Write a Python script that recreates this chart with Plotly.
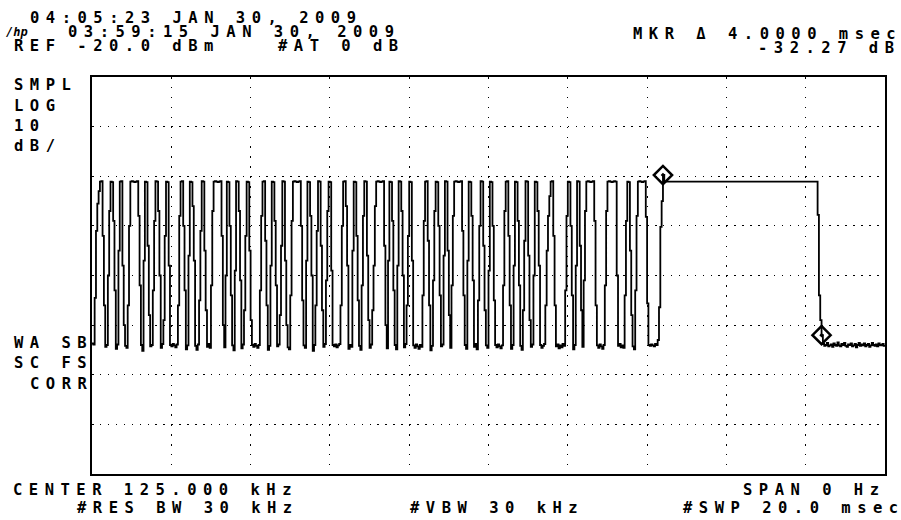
import numpy as np
import plotly.graph_objects as go

# ---------------- instrument settings ----------------
N_POINTS = 601          # trace points across the sweep
SWEEP_MS = 20.0         # sweep time, ms (x axis: 0..20 ms, 2 ms/div)
REF_DBM = -20.0         # reference level (top of graticule)
DB_PER_DIV = 10.0
N_YDIV = 8
N_XDIV = 10

# ---------------- trace values, dBm, one per sample 0..432 ----------------
pulse_dbm = [
    -73.7, -73.9, -64.5, -51.0, -45.5, -43.0, -41.1, -41.0,
    -52.0, -66.0, -74.4, -74.0, -60.0, -47.0, -41.1, -41.2,
    -49.0, -63.0, -74.8, -73.9, -55.0, -41.1, -41.0,
    -58.0, -70.0, -74.2, -74.6, -66.0, -50.0, -41.1, -41.0, -41.1, -41.2, -41.1, -41.0,
    -48.0, -62.0, -74.0, -75.2, -57.0, -41.1, -41.2,
    -54.0, -68.0, -74.3, -74.0, -63.0, -49.0, -41.0, -41.1,
    -47.0, -60.0, -74.6, -73.8, -69.0, -52.0, -41.1, -41.2,
    -58.0, -74.0, -74.3, -73.8, -74.1, -74.5, -73.9, -66.0, -48.0, -41.1, -41.0,
    -50.0, -63.0, -74.9, -74.1, -56.0, -41.1, -41.2,
    -46.0, -57.0, -74.2, -75.0, -73.9, -65.0, -51.0, -41.0, -41.1,
    -55.0, -67.0, -74.4, -73.8, -74.6, -62.0, -47.0, -41.1, -41.0, -41.1, -41.2, -41.1, -41.0,
    -52.0, -70.0, -74.5, -60.0, -41.1, -41.2,
    -50.0, -64.0, -74.1, -75.1, -59.0, -41.0, -41.1,
    -47.0, -61.0, -74.7, -73.9, -67.0, -52.0, -41.1, -41.2,
    -55.0, -69.0, -74.0, -74.4, -73.8, -74.2, -74.6, -74.0, -63.0, -48.0, -41.1, -41.0,
    -53.0, -66.0, -75.0, -74.2, -58.0, -41.1, -41.2,
    -49.0, -62.0, -74.3, -73.9, -68.0, -54.0, -41.0, -41.1,
    -57.0, -70.0, -74.5, -74.9, -64.0, -49.0, -41.1, -41.0, -41.1, -41.2, -41.1, -41.0,
    -50.0, -65.0, -74.1, -74.6, -57.0, -41.1, -41.2,
    -48.0, -60.0, -75.2, -74.0, -66.0, -51.0, -41.0, -41.1,
    -54.0, -67.0, -74.4, -73.8, -61.0, -47.0, -41.1, -41.2,
    -59.0, -74.0, -74.3, -73.9, -74.5, -74.1, -73.8, -66.0, -50.0, -41.1, -41.0,
    -46.0, -58.0, -74.8, -74.0, -74.4, -55.0, -41.1, -41.2,
    -52.0, -65.0, -74.2, -75.0, -62.0, -48.0, -41.0, -41.1,
    -56.0, -69.0, -74.6, -73.9, -67.0, -58.0, -46.0, -41.1, -41.0, -41.1, -41.2, -41.1, -41.0,
    -54.0, -70.0, -74.7, -57.0, -41.1, -41.2,
    -49.0, -63.0, -74.0, -74.9, -58.0, -41.0, -41.1,
    -47.0, -60.0, -74.5, -73.8, -66.0, -52.0, -41.1, -41.2,
    -57.0, -74.1, -74.6, -73.9, -74.3, -74.8, -74.0, -74.4, -64.0, -49.0, -41.1, -41.0,
    -53.0, -66.0, -75.1, -74.2, -61.0, -47.0, -41.1, -41.2,
    -50.0, -64.0, -74.3, -73.9, -56.0, -41.0, -41.1,
    -55.0, -68.0, -74.6, -62.0, -48.0, -41.1, -41.0, -41.1, -41.2, -41.1, -41.0,
    -51.0, -64.0, -74.0, -74.8, -57.0, -41.1, -41.2,
    -48.0, -61.0, -74.4, -73.8, -74.9, -65.0, -50.0, -41.0, -41.1,
    -54.0, -67.0, -74.1, -74.6, -59.0, -41.1, -41.2,
    -50.0, -65.0, -74.0, -74.5, -73.9, -74.3, -74.7, -74.1, -62.0, -47.0, -41.1, -41.0,
    -52.0, -66.0, -74.8, -74.0, -58.0, -41.1, -41.2,
    -49.0, -62.0, -74.2, -75.0, -67.0, -53.0, -41.0, -41.1,
    -56.0, -69.0, -74.4, -73.9, -60.0, -41.1, -41.2,
    -47.0, -58.0, -74.0, -74.6, -74.2, -73.8, -66.0, -55.0, -48.0, -44.0, -41.1, -41.0,
    -52.0, -66.0, -74.3, -73.9, -74.7, -74.1, -74.5, -73.8, -74.2, -63.0, -48.0, -41.1, -41.2,
    -50.0, -64.0, -74.9, -74.0, -58.0, -41.0, -41.1,
    -54.0, -67.0, -74.4, -61.0, -47.0, -41.1, -41.0, -41.1, -41.2, -41.1, -41.0,
    -49.0, -66.0, -74.1, -74.6, -73.9, -74.3, -74.8, -74.0, -62.0, -47.0,
    -41.1, -41.0, -41.1, -41.2, -41.1, -41.0, -41.1,
    -60.0, -74.2, -73.8, -74.5, -74.1, -74.6, -64.0, -49.0, -41.1, -41.2,
    -55.0, -68.0, -74.3, -74.9, -63.0, -48.0, -41.1, -41.0, -41.1, -41.2, -41.1, -41.0,
    -48.2, -65.6, -74.0, -74.2, -73.9, -74.1, -74.3, -73.8, -74.0, -73.0, -66.4, -50.2, -45.0,
    -39.75,
]
flat_top_dbm = -41.1            # level held from sample 433 to 548
flat_start_idx = 433
fall_start_idx = 549
fall_dbm = [-47.8, -64.0, -69.0, -72.02]   # samples 549..552
noise_dbm = [
    -73.8, -74.2, -74.0, -73.6, -74.3, -74.1, -73.9, -74.4, -73.7, -74.0, -74.2, -73.5,
    -74.1, -74.3, -73.8, -74.0, -73.6, -74.2, -74.4, -73.9, -74.0, -73.7, -74.3, -74.1,
    -73.8, -74.5, -74.0, -73.6, -74.2, -73.9, -74.1, -73.7, -74.3, -74.0, -73.8, -74.4,
    -74.1, -73.6, -74.0, -74.2, -73.9, -74.3, -73.7, -74.0, -74.1, -73.8, -74.2, -74.0,
]
marker_idx = [432, 552]
marker_dbm = [-39.75, -72.02]

# ---------------- annotation strings ----------------
date_now = "04:05:23 JAN 30, 2009"
date_cal = "03:59:15 JAN 30, 2009"
ref_text = f"REF {REF_DBM:.1f} dBm"
atten_text = "#AT 0 dB"
mkr_time_text = "MKR Δ 4.0000 msec"
mkr_amp_text = "-32.27 dB"
left_labels = ["SMPL", "LOG", "10", "dB/"]
left_labels2 = ["WA SB", "SC FS", "CORR"]
center_text = "CENTER 125.000 kHz"
rbw_text = "#RES BW 30 kHz"
vbw_text = "#VBW 30 kHz"
span_text = "SPAN 0 Hz"
swp_text = f"#SWP {SWEEP_MS:.1f} msec"

# ---------------- build trace ----------------
dt = SWEEP_MS / (N_POINTS - 1)
idx = list(range(len(pulse_dbm))) + [flat_start_idx] \
    + list(range(fall_start_idx, fall_start_idx + len(fall_dbm))) \
    + list(range(fall_start_idx + len(fall_dbm), fall_start_idx + len(fall_dbm) + len(noise_dbm)))
yv = pulse_dbm + [flat_top_dbm] + fall_dbm + noise_dbm
tx = np.array(idx) * dt

fig = go.Figure()
fig.add_trace(go.Scatter(
    x=tx, y=yv, mode="lines", line=dict(color="black", width=1.8, shape="hv"),
    hoverinfo="skip", showlegend=False))
fig.add_trace(go.Scatter(
    x=np.array(marker_idx) * dt, y=marker_dbm, mode="markers",
    marker=dict(symbol="diamond-open-dot", size=14, color="black", line=dict(width=2.5, color="black")),
    hoverinfo="skip", showlegend=False))

W, H = 901, 520
L, R, T, B = 92, 885, 77, 474

def px(x):
    return (x - L) / (R - L)

def py(y):
    return (B - y) / (B - T)

FONT = "DejaVu Sans Mono"
LS = 6.5

def add_text(s, left, cy, size=15.5, ls=LS):
    fig.add_annotation(
        text=f'<span style="letter-spacing:{ls}px">{s}</span>',
        x=px(left - 2), y=py(cy), xref="paper", yref="paper",
        xanchor="left", yanchor="middle", showarrow=False,
        font=dict(family=FONT, size=size, color="black", weight="bold"))

add_text(date_now, 30, 18)
add_text("<i>/hp</i>", 6, 32, size=12, ls=0)
add_text(date_cal, 68, 32)
add_text(ref_text, 14, 46.5)
add_text(atten_text, 278, 46.5)
add_text(mkr_time_text, 633, 34)
add_text(mkr_amp_text, 758, 48)
for s, cy in zip(left_labels, [85, 106, 126, 146]):
    add_text(s, 14, cy)
for s, left, cy in zip(left_labels2, [14, 14, 30], [343, 363, 384]):
    add_text(s, left, cy)
add_text(center_text, 13, 490)
add_text(rbw_text, 77, 508)
add_text(vbw_text, 410, 508)
add_text(span_text, 743, 490)
add_text(swp_text, 683, 508)

fig.update_xaxes(
    range=[0, SWEEP_MS], tick0=0, dtick=SWEEP_MS / N_XDIV,
    showgrid=True, gridcolor="black", gridwidth=1, griddash="1.5px,8.42px",
    showline=True, mirror=True, linecolor="black", linewidth=2,
    ticks="", showticklabels=False, zeroline=False, fixedrange=True)
fig.update_yaxes(
    range=[REF_DBM - N_YDIV * DB_PER_DIV, REF_DBM], tick0=REF_DBM, dtick=DB_PER_DIV,
    showgrid=True, gridcolor="black", gridwidth=1, griddash="1.5px,6.43px",
    showline=True, mirror=True, linecolor="black", linewidth=2,
    ticks="", showticklabels=False, zeroline=False, fixedrange=True)

fig.update_layout(
    width=W, height=H,
    margin=dict(l=L, r=W - R, t=T, b=H - B, pad=0),
    paper_bgcolor="white", plot_bgcolor="white",
    showlegend=False)

fig.write_html(
    "out.html",
    config={"displayModeBar": False, "staticPlot": True},
    post_script="document.body.style.margin='0px';document.body.style.overflow='hidden';")
